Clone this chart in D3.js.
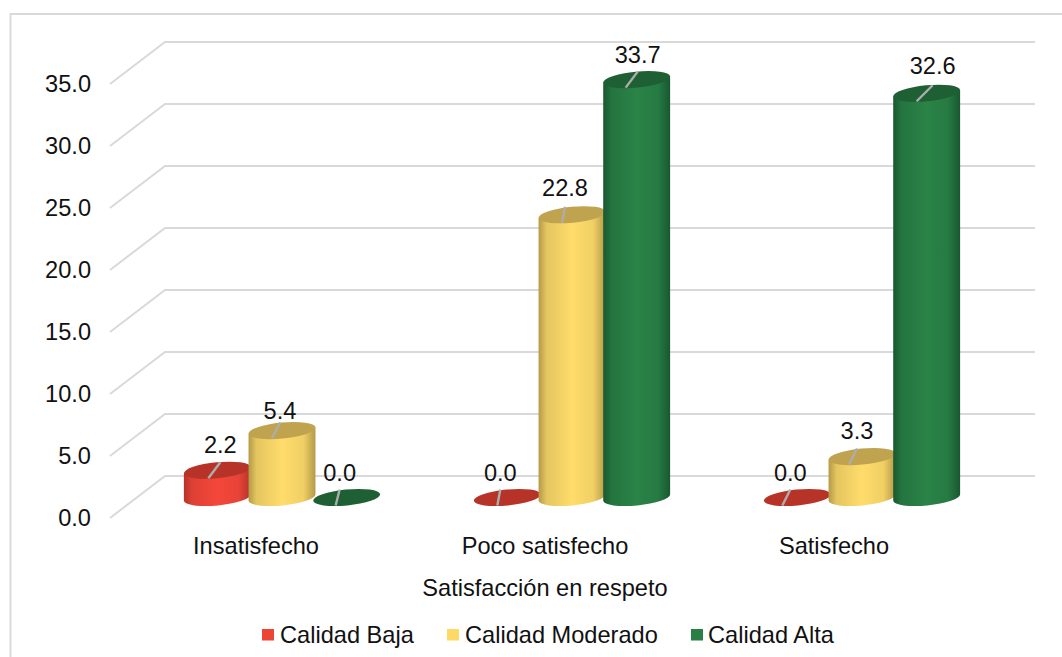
<!DOCTYPE html>
<html>
<head>
<meta charset="utf-8">
<script src="https://cdnjs.cloudflare.com/ajax/libs/d3/7.8.5/d3.min.js"></script>
<style>
html,body{margin:0;padding:0;background:#fff;overflow:hidden}
svg{display:block}
text{font-family:"Liberation Sans",Arial,sans-serif;fill:#111}
</style>
</head>
<body>
<div id="chart"></div>
<script>
const categories = ["Insatisfecho", "Poco satisfecho", "Satisfecho"];
const seriesNames = ["Calidad Baja", "Calidad Moderado", "Calidad Alta"];
const calidadBaja = [2.2, 0.0, 0.0];
const calidadModerado = [5.4, 22.8, 3.3];
const calidadAlta = [0.0, 33.7, 32.6];
const tickValues = [0, 5, 10, 15, 20, 25, 30, 35];
const axisTitle = "Satisfacción en respeto";

// Label placement tweaks (px), one per series/category
const labelDx = [[3, -7, -7], [-2, -7, -5], [-7, 1, 6]];
const labelDy = [[-25, -25, -25], [-20, -27, -26], [-25, -25, -27]];
const leaderRun = [[12, 3, 8], [8, 3, 8], [4, 12, 16]];

const FONT = "23.6px";

const palette = [
  {mid:"#f4473a", edge:"#b5332a", top:"#b73328", key:"#ee4436"},
  {mid:"#ffdc6b", edge:"#b39a48", top:"#c0a34e", key:"#ffd966"},
  {mid:"#2a8347", edge:"#185730", top:"#1e6033", key:"#2a7f45"}
];

const W = 1062, H = 657;
const svg = d3.select("#chart").append("svg").attr("width", W).attr("height", H);

const seriesValues = [calidadBaja, calidadModerado, calidadAlta];

const defs = svg.append("defs");
palette.forEach((c, i) => {
  const g = defs.append("linearGradient").attr("id", "cyl" + i)
    .attr("x1", "0%").attr("x2", "100%").attr("y1", "0%").attr("y2", "0%");
  [[0, c.edge], [0.12, d3.interpolateRgb(c.edge, c.mid)(0.65)], [0.5, c.mid],
   [0.82, d3.interpolateRgb(c.edge, c.mid)(0.8)], [1, c.edge]]
    .forEach(([o, col]) => g.append("stop").attr("offset", o).attr("stop-color", col));
});

svg.append("rect").attr("x", 10.5).attr("y", 14).attr("width", 1070).attr("height", 680)
  .attr("fill", "#fff").attr("stroke", "#d9d9d9").attr("stroke-width", 2);

const y = d3.scaleLinear().domain([0, 35]).range([476, 42]);
const depthX = 55, depthY = 42, baseDrop = 21.5;
const left = 110, rightEnd = 1035;

const grid = svg.append("g");
tickValues.forEach(v => {
  const p = d3.path();
  p.moveTo(left, y(v) + depthY);
  p.lineTo(left + depthX, y(v));
  p.lineTo(rightEnd, y(v));
  grid.append("path").attr("d", p.toString()).attr("fill", "none")
    .attr("stroke", "#d9d9d9").attr("stroke-width", 2);
});

const yFront = d3.scaleLinear().domain(y.domain()).range(y.range().map(d => d + depthY));
const yAxis = d3.axisLeft(yFront).tickValues(tickValues).tickFormat(d3.format(".1f")).tickSize(0).tickPadding(0);
const axG = svg.append("g").attr("transform", "translate(91,0)").call(yAxis);
axG.select(".domain").remove();
axG.selectAll("text").style("font-size", FONT).style("font-family", '"Liberation Sans",Arial,sans-serif').attr("fill", "#111");

const x0 = d3.scaleBand().domain(categories).range([137, 1007]);
const x1 = d3.scaleBand().domain(seriesNames).range([x0.bandwidth() / 2 - 97, x0.bandwidth() / 2 + 97]);

const rx = 33.6, ry = 8, tilt = 5.5, rad = tilt * Math.PI / 180;
const ex = rx * Math.cos(rad), ey = rx * Math.sin(rad);

const marks = svg.append("g");
categories.forEach((cat, ci) => {
  seriesNames.forEach((s, si) => {
    const v = seriesValues[si][ci];
    const cx = x0(cat) + x1(s) + x1.bandwidth() / 2;
    const base = y(0) + baseDrop;
    const top = y(v) + baseDrop;
    const c = palette[si];
    const g = marks.append("g");
    if (v > 0) {
      g.append("path")
        .attr("d", `M${cx - ex},${top + ey} L${cx - ex},${base + ey} A${rx},${ry} ${-tilt} 0 0 ${cx + ex},${base - ey} L${cx + ex},${top - ey} Z`)
        .attr("fill", `url(#cyl${si})`);
    }
    g.append("ellipse").attr("cx", cx).attr("cy", top).attr("rx", rx).attr("ry", ry)
      .attr("transform", `rotate(${-tilt} ${cx} ${top})`)
      .attr("fill", c.top);
  });
});

// leaders and labels above all bars
const labels = svg.append("g");
categories.forEach((cat, ci) => {
  seriesNames.forEach((s, si) => {
    const v = seriesValues[si][ci];
    const cx = x0(cat) + x1(s) + x1.bandwidth() / 2;
    const top = y(v) + baseDrop;
    const lx = cx + labelDx[si][ci];
    labels.append("line")
      .attr("x1", lx - leaderRun[si][ci]).attr("y1", top + 8)
      .attr("x2", lx).attr("y2", top - 8)
      .attr("stroke", "#adadad").attr("stroke-width", 2.4);
    labels.append("text").attr("x", lx).attr("y", top + labelDy[si][ci])
      .attr("text-anchor", "middle").attr("dominant-baseline", "central")
      .style("font-size", FONT).text(d3.format(".1f")(v));
  });
});

const catX = d3.scalePoint().domain(categories).range([256, 834]);
const catG = svg.append("g");
categories.forEach(cat => {
  catG.append("text").attr("x", catX(cat))
    .attr("y", 546).attr("text-anchor", "middle").attr("dominant-baseline", "central")
    .style("font-size", FONT).text(cat);
});

svg.append("text").attr("x", 545).attr("y", 588).attr("text-anchor", "middle")
  .attr("dominant-baseline", "central").style("font-size", FONT).text(axisTitle);

const legendX = [262, 447, 691];
const legendTextX = [280, 465, 708];
const legend = svg.append("g");
seriesNames.forEach((s, i) => {
  legend.append("rect").attr("x", legendX[i]).attr("y", 629).attr("width", 12).attr("height", 11.5)
    .attr("fill", palette[i].key);
  legend.append("text").attr("x", legendTextX[i]).attr("y", 635)
    .attr("dominant-baseline", "central").style("font-size", FONT).text(s);
});
</script>
</body>
</html>
